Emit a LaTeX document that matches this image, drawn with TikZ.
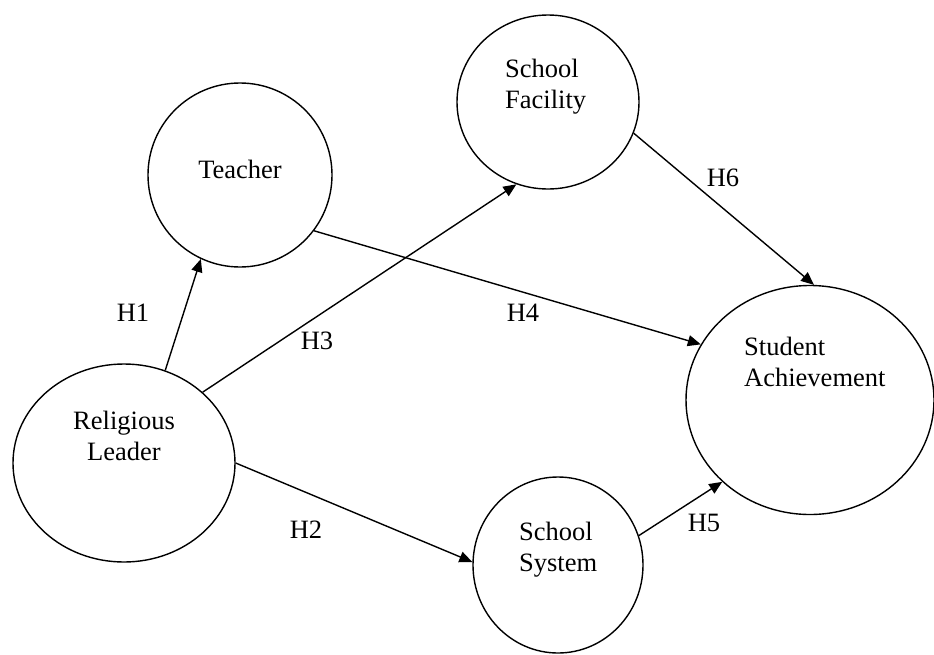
\documentclass[tikz,border=0pt]{standalone}
\usepackage{fontspec}
\setmainfont{Liberation Serif}
\usetikzlibrary{shapes.geometric,arrows.meta}

\begin{document}
\begin{tikzpicture}[x=1pt,y=-1pt,
        construct/.style = {draw,ellipse,line width=1.4pt,inner sep=0},
        caption/.style = {inner sep=0,font=\fontsize{26.5}{30.5}\selectfont},
        path/.style = {line width=1.4pt,-{Triangle[length=13pt,width=11pt]}},
        hyp/.style = {inner sep=0,font=\fontsize{26.5}{30.5}\selectfont}]
        \useasboundingbox (0,0) rectangle (934,654);

        % constructs
        \node[construct,minimum width=184,minimum height=184] (teacher) at (240,175) {};
        \node[construct,minimum width=182,minimum height=174] (facility) at (548,102) {};
        \node[construct,minimum width=222,minimum height=198] (leader) at (124,463) {};
        \node[construct,minimum width=248,minimum height=229] (achieve) at (810,400) {};
        \node[construct,minimum width=170,minimum height=176] (system) at (558,565) {};

        \node[caption,anchor=base] (teacherText) at (240,178) {Teacher};
        \node[caption,anchor=north west,align=left] (facilityText) at (505,59) {School\\Facility};
        \node[caption,anchor=north,align=center] (leaderText) at (124,411) {Religious\\Leader};
        \node[caption,anchor=north west,align=left] (achieveText) at (744,337) {Student\\Achievement};
        \node[caption,anchor=north west,align=left] (systemText) at (519,522) {School\\System};

        % hypotheses
        \draw[path] (leader.66) -- (teacher.245);
        \draw[path] (leader.0) -- (system.178);
        \draw[path] (leader.42) -- (facility.249);
        \draw[path] (teacher.-37) -- (achieve.153);
        \draw[path] (system.20) -- (achieve.223);
        \draw[path] (facility.-20) -- (achieve.88);

        \node[hyp] (h1) at (133,313) {H1};
        \node[hyp] (h2) at (306,530) {H2};
        \node[hyp] (h3) at (317,341) {H3};
        \node[hyp] (h4) at (523,313) {H4};
        \node[hyp] (h5) at (704,523) {H5};
        \node[hyp] (h6) at (723,178) {H6};
    \end{tikzpicture}
\end{document}
